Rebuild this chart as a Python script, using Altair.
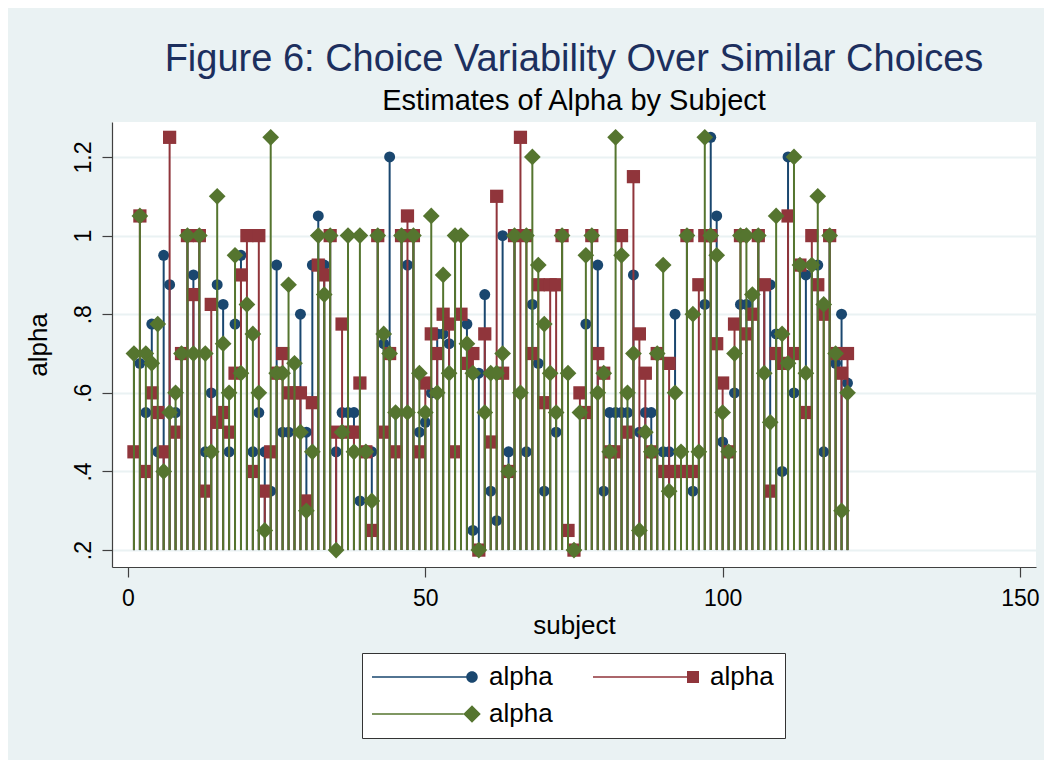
import altair as alt
import pandas as pd

# ---------------- data ----------------
subjects = list(range(1, 122))

alpha_blue = [
    0.70, 0.675, 0.55, 0.775, 0.45, 0.95, 0.875, 0.55, 0.70, 1.0,
    0.90, 1.0, 0.45, 0.60, 0.875, 0.825, 0.45, 0.775, 0.95, 0.825,
    0.45, 0.55, 0.45, 0.35, 0.925, 0.50, 0.50, 0.675, 0.80, 0.50,
    0.925, 1.05, 0.925, 1.0, 0.45, 0.55, 0.55, 0.55, 0.325, 0.45,
    0.45, 1.0, 0.725, 1.2, 0.55, 1.0, 0.925, 1.0, 0.50, 0.525,
    0.60, 0.75, 0.75, 0.725, 1.0, 0.80, 0.775, 0.25, 0.65, 0.85,
    0.35, 0.275, 1.0, 0.45, 1.0, 0.60, 0.45, 0.825, 0.675, 0.35,
    0.65, 0.50, 1.0, 0.25, 0.20, 0.55, 0.775, 1.0, 0.925, 0.35,
    0.55, 0.55, 0.55, 0.55, 0.90, 0.50, 0.55, 0.55, 0.70, 0.45,
    0.45, 0.80, 0.45, 1.0, 0.35, 0.45, 0.825, 1.25, 1.05, 0.475,
    0.45, 0.60, 0.825, 0.825, 0.85, 1.0, 0.875, 0.875, 0.75, 0.40,
    1.2, 0.60, 0.925, 0.90, 0.925, 0.925, 0.45, 1.0, 0.675, 0.80,
    0.625,
]

alpha_red = [
    0.45, 1.05, 0.40, 0.60, 0.55, 0.45, 1.25, 0.50, 0.70, 1.0,
    0.85, 1.0, 0.35, 0.825, 0.525, 0.55, 0.50, 0.65, 0.90, 1.0,
    0.40, 1.0, 0.35, 0.45, 0.65, 0.70, 0.60, 0.60, 0.60, 0.325,
    0.575, 0.925, 0.90, 1.0, 0.50, 0.775, 0.50, 0.50, 0.625, 0.45,
    0.25, 1.0, 0.50, 0.70, 0.45, 1.0, 1.05, 1.0, 0.45, 0.625,
    0.75, 0.70, 0.80, 0.775, 0.45, 0.80, 0.675, 0.70, 0.20, 0.75,
    0.475, 1.10, 0.65, 0.40, 1.0, 1.25, 1.0, 0.70, 0.875, 0.575,
    0.875, 0.875, 1.0, 0.25, 0.20, 0.60, 0.55, 1.0, 0.70, 0.65,
    0.45, 0.45, 1.0, 0.50, 1.15, 0.75, 0.65, 0.45, 0.70, 0.40,
    0.675, 0.40, 0.40, 1.0, 0.40, 0.875, 1.0, 1.0, 0.725, 0.625,
    0.45, 0.775, 1.0, 0.75, 0.80, 1.0, 0.875, 0.35, 0.70, 0.675,
    1.05, 0.70, 0.925, 0.55, 1.0, 0.875, 0.80, 1.0, 0.70, 0.65,
    0.70,
]

alpha_green = [
    0.70, 1.05, 0.70, 0.675, 0.775, 0.40, 0.55, 0.60, 0.70, 1.0,
    0.70, 1.0, 0.70, 0.45, 1.10, 0.725, 0.60, 0.95, 0.65, 0.825,
    0.75, 0.60, 0.25, 1.25, 0.65, 0.65, 0.875, 0.675, 0.50, 0.30,
    0.45, 1.0, 0.85, 1.0, 0.20, 0.50, 1.0, 0.45, 1.0, 0.45,
    0.325, 1.0, 0.75, 0.70, 0.55, 1.0, 0.55, 1.0, 0.65, 0.55,
    1.05, 0.60, 0.90, 0.65, 1.0, 1.0, 0.725, 0.65, 0.20, 0.55,
    0.65, 0.65, 0.70, 0.40, 1.0, 0.60, 1.0, 1.20, 0.925, 0.775,
    0.65, 0.55, 1.0, 0.65, 0.20, 0.55, 0.95, 1.0, 0.60, 0.65,
    0.45, 1.25, 0.95, 0.60, 0.70, 0.25, 0.50, 0.45, 0.70, 0.925,
    0.35, 0.60, 0.45, 1.0, 0.80, 0.45, 1.25, 1.0, 0.95, 0.55,
    0.45, 0.70, 1.0, 1.0, 0.85, 1.0, 0.65, 0.525, 1.05, 0.75,
    0.675, 1.20, 0.925, 0.65, 0.925, 1.10, 0.825, 1.0, 0.70, 0.30,
    0.60,
]

series_names = ["s1", "s2", "s3"]
legend_labels = ["alpha", "alpha", "alpha"]
series_colors = ["#1a476f", "#90353b", "#55752f"]
x_ticks = [0, 50, 100, 150]
y_ticks = [0.2, 0.4, 0.6, 0.8, 1.0, 1.2]
baseline_value = 0.2

rows = []
for name, vals in zip(series_names, [alpha_blue, alpha_red, alpha_green]):
    for s, v in zip(subjects, vals):
        rows.append({"subject": s, "series": name, "alpha": v, "base": baseline_value})
df = pd.DataFrame(rows)

# ---------------- styling ----------------
FONT = "Liberation Sans"
BG = "#eaf2f3"
AXIS_COL = "#404040"

x_scale = alt.Scale(domain=[-2.69, 152.7], nice=False, zero=False)
y_scale = alt.Scale(domain=[0.157, 1.289], nice=False, zero=False)

x_axis = alt.Axis(
    values=x_ticks, title="subject", grid=False,
    labelFont=FONT, labelFontSize=23, labelColor="black",
    labelBaseline="alphabetic", labelPadding=28, labelFlush=False,
    tickSize=10, tickColor=AXIS_COL, tickWidth=1.2,
    domainColor=AXIS_COL, domainWidth=1.2,
    titleFont=FONT, titleFontSize=26, titleFontWeight="normal", titleColor="black",
    titleX=462, titleY=66, titleAlign="center", titleBaseline="alphabetic",
)
y_axis = alt.Axis(
    values=y_ticks, title="alpha",
    labelExpr="datum.value < 1 ? slice(format(datum.value, '.1f'), 1) : format(datum.value, '.1~f')",
    labelAngle=270, labelAlign="center", labelBaseline="alphabetic",
    labelFont=FONT, labelFontSize=23, labelColor="black", labelPadding=12, labelFlush=False,
    tickSize=10, tickColor=AXIS_COL, tickWidth=1.2,
    domainColor=AXIS_COL, domainWidth=1.2,
    grid=True, gridColor=BG, gridWidth=2,
    titleFont=FONT, titleFontSize=26, titleFontWeight="normal", titleColor="black",
    titleAngle=270, titleX=-66, titleY=222.5, titleAlign="center", titleBaseline="alphabetic",
)

marker_shapes = ["circle", "square", "diamond"]
marker_sizes = [120, 175, 280]

# legend symbols: a line segment ending in the series marker
legend_paths = [
    "M-20,-0.15L-1,-0.15L-1,0.15L-20,0.15Z M1.15,0A1.15,1.15,0,1,1,-1.15,0A1.15,1.15,0,1,1,1.15,0Z",
    "M-20,-0.15L-1.2,-0.15L-1.2,0.15L-20,0.15Z M-1.2,-1.2L1.2,-1.2L1.2,1.2L-1.2,1.2Z",
    "M-20,-0.15L-1.7,-0.15L-1.7,0.15L-20,0.15Z M0,-1.75L1.75,0L0,1.75L-1.75,0Z",
]

base = alt.Chart(df)
layers = []
for name, color, shape, size in zip(series_names, series_colors, marker_shapes, marker_sizes):
    sub = base.transform_filter(alt.datum.series == name)
    rule = sub.mark_rule(color=color, strokeWidth=2).encode(
        x=alt.X("subject:Q", scale=x_scale, axis=x_axis),
        y=alt.Y("alpha:Q", scale=y_scale, axis=y_axis),
        y2=alt.Y2("base:Q"),
    )
    pts = sub.mark_point(filled=True, opacity=1, shape=shape, size=size, color=color, strokeWidth=0).encode(
        x=alt.X("subject:Q", scale=x_scale, axis=x_axis),
        y=alt.Y("alpha:Q", scale=y_scale, axis=y_axis),
    )
    layers += [rule, pts]

legend = alt.Legend(
    title=None, orient="none", legendX=250, legendY=531, columns=2, direction="horizontal",
    labelExpr="'" + legend_labels[0] + "'",
    labelFont=FONT, labelFontSize=26, labelColor="black",
    symbolOffset=86, labelOffset=4,
    symbolSize=100, symbolStrokeWidth=0,
    fillColor="white", strokeColor="#333333", padding=11,
    rowPadding=11, columnPadding=40,
)

legend_layer = base.transform_filter("false").mark_point(filled=True, opacity=1).encode(
    x=alt.X("subject:Q", scale=x_scale, axis=x_axis),
    y=alt.Y("alpha:Q", scale=y_scale, axis=y_axis),
    color=alt.Color("series:N", scale=alt.Scale(domain=series_names, range=series_colors), legend=legend),
    shape=alt.Shape("series:N", scale=alt.Scale(domain=series_names, range=legend_paths), legend=legend),
)

chart = alt.layer(*layers, legend_layer).properties(
    width=924,
    height=445,
    autosize=alt.AutoSizeParams(type="none"),
    padding={"left": 104, "top": 114, "right": 8, "bottom": 193},
    background=BG,
    title=alt.Title(
        text="Figure 6: Choice Variability Over Similar Choices",
        subtitle="Estimates of Alpha by Subject",
        font=FONT, fontSize=38, fontWeight="normal", color="#1c2f5e",
        subtitleFont=FONT, subtitleFontSize=29, subtitleColor="black",
        anchor="middle", frame="group", offset=6, subtitlePadding=8,
    ),
).configure_view(fill="white", stroke=None)

chart.save("out.html", embed_options={"renderer": "svg", "actions": False})
